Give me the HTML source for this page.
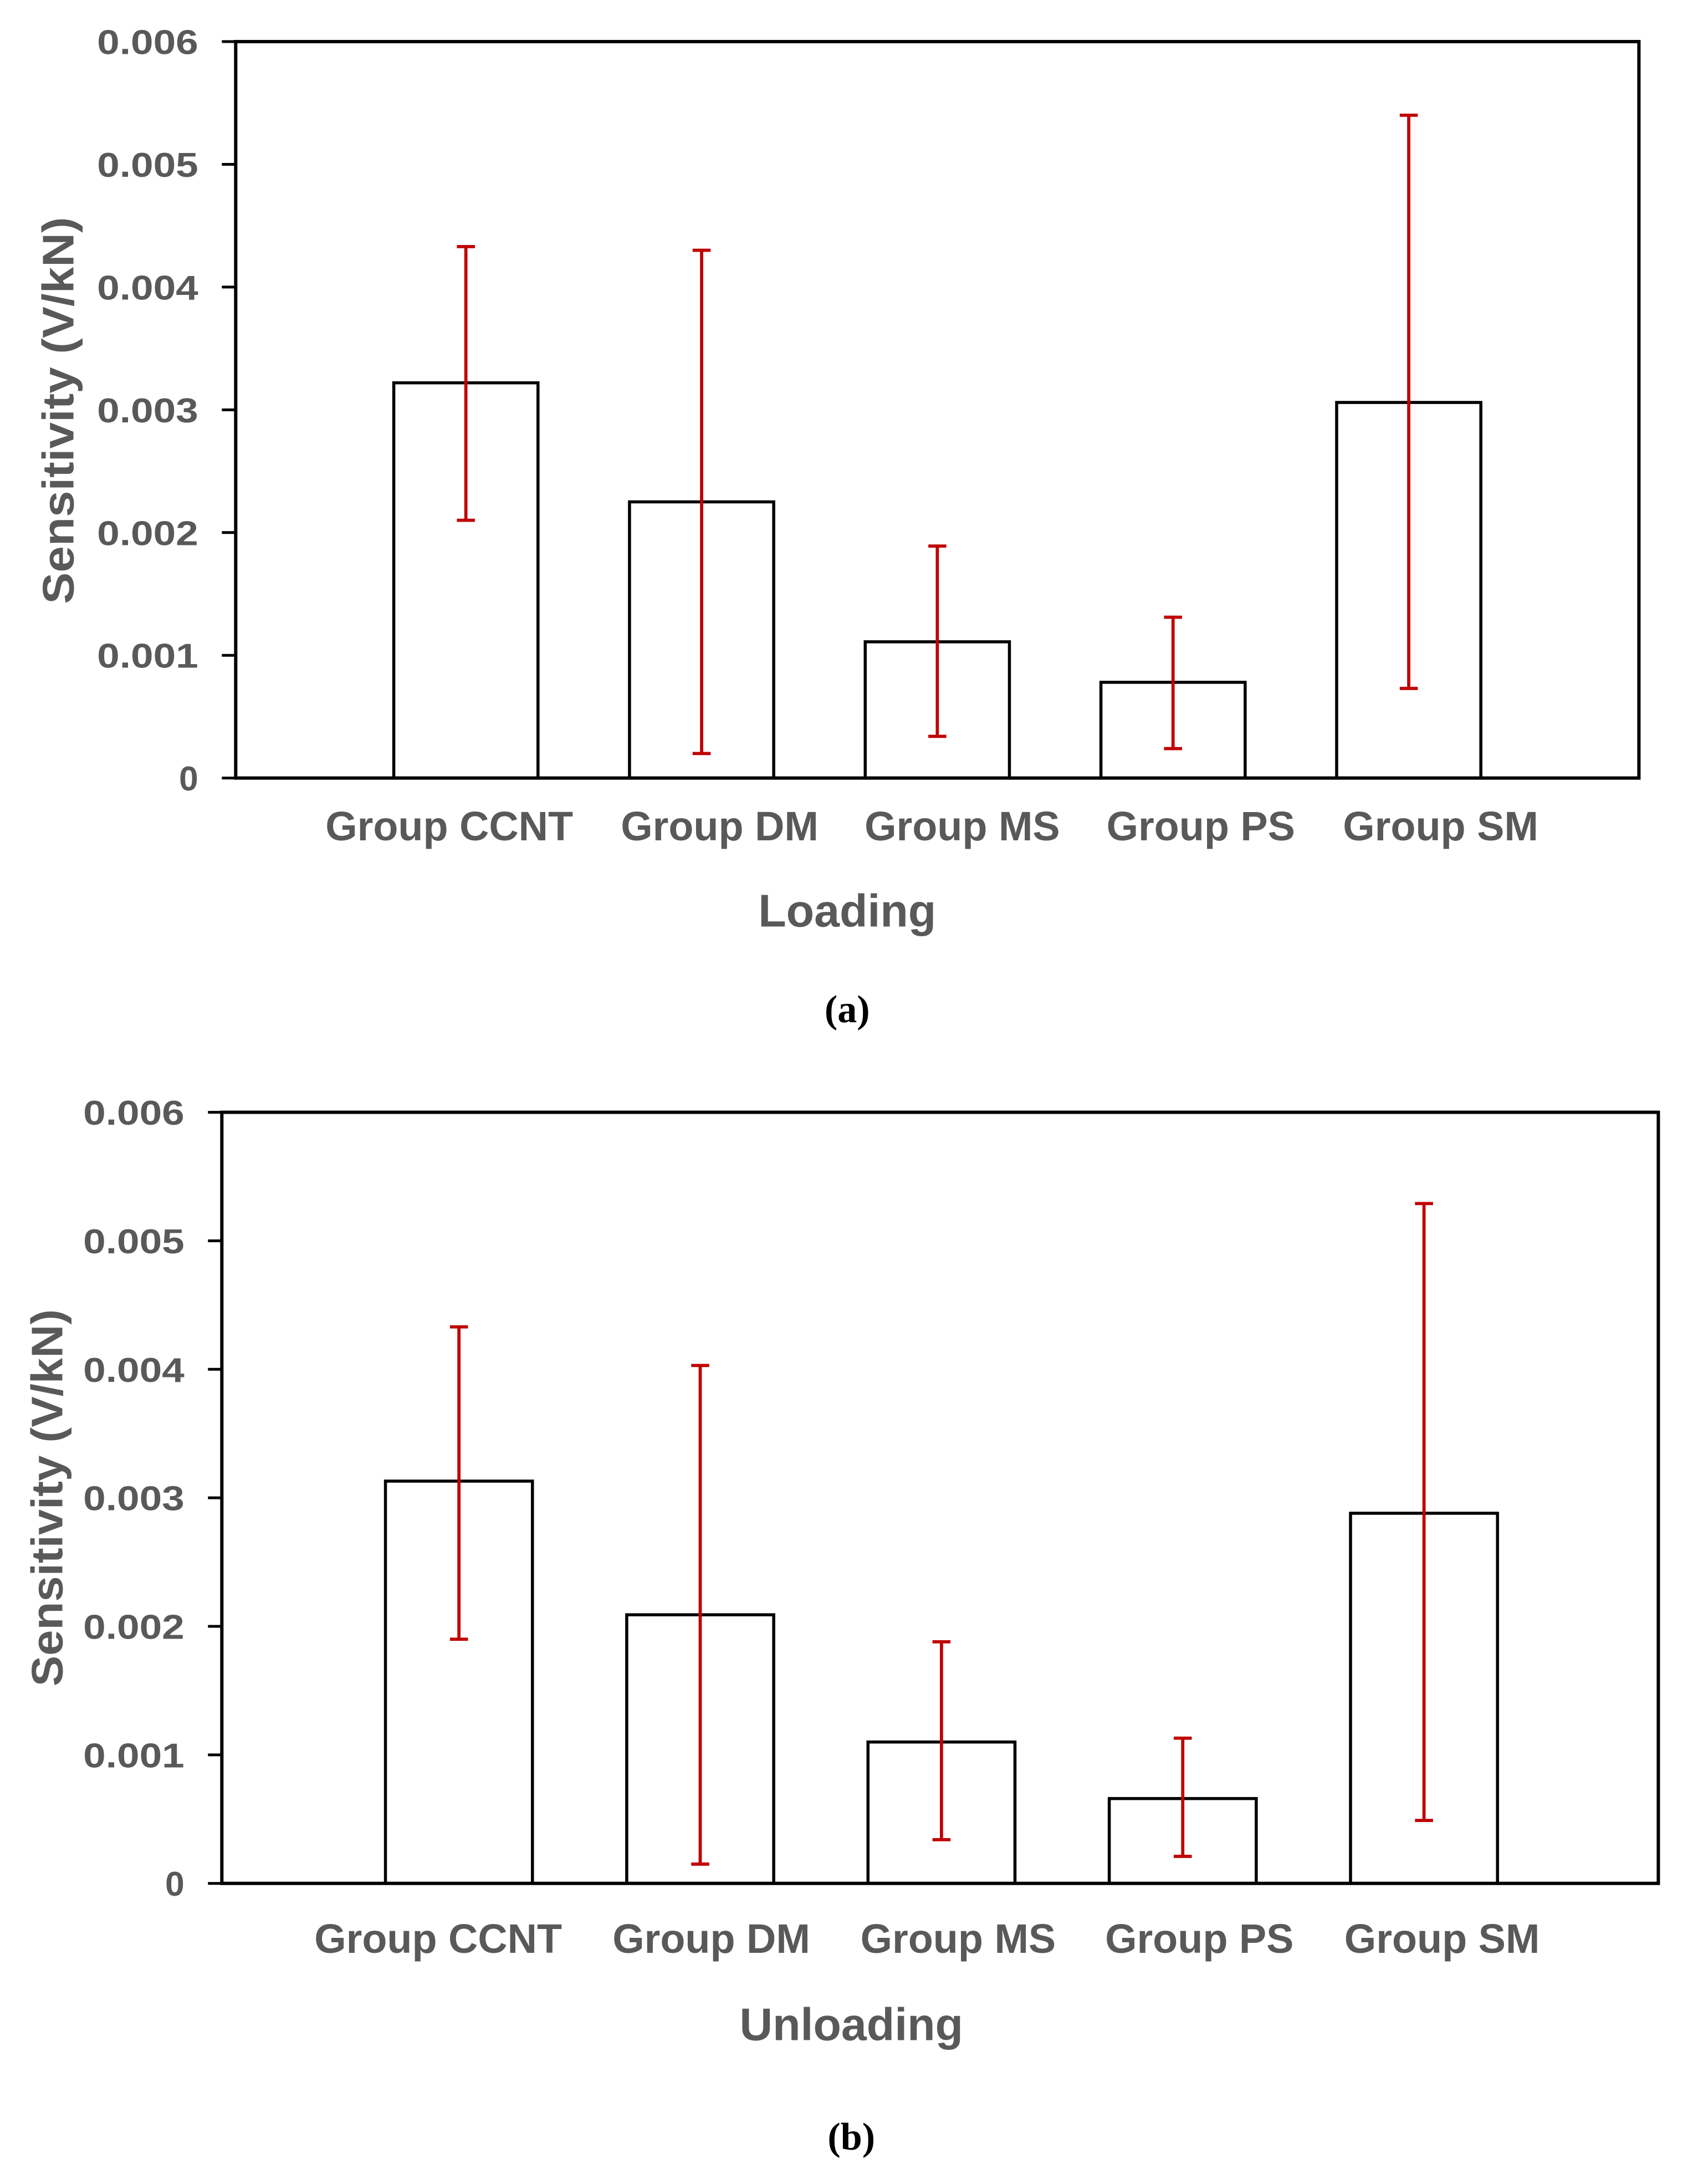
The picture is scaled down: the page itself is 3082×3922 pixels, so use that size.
<!DOCTYPE html>
<html><head><meta charset="utf-8"><style>
html,body{margin:0;padding:0;background:#fff;}
svg{display:block;}
text{font-family:"Liberation Sans",Arial,sans-serif;font-weight:bold;fill:#595959;}
</style></head><body>
<svg id="fig" width="3082" height="3922" viewBox="0 0 3082 3922" xmlns="http://www.w3.org/2000/svg">
<rect width="3082" height="3922" fill="#fff"/>
<g id="root" transform="scale(2.502)"></g>
</svg>
<script>
const categories = ["Group CCNT","Group DM","Group MS","Group PS","Group SM"];
const yTicks = [0,0.001,0.002,0.003,0.004,0.005,0.006];
const yTickLabels = ["0","0.001","0.002","0.003","0.004","0.005","0.006"];
const loadingValues = [0.00322,0.00225,0.00111,0.00078,0.00306];
const loadingUpper = [0.00433,0.00430,0.00189,0.00131,0.00540];
const loadingLower = [0.00210,0.00020,0.00034,0.00024,0.00073];
const unloadingValues = [0.00313,0.00209,0.00110,0.00066,0.00288];
const unloadingUpper = [0.00433,0.00403,0.00188,0.00113,0.00529];
const unloadingLower = [0.00190,0.00015,0.00034,0.00021,0.00049];

const NS="http://www.w3.org/2000/svg";
const root=document.getElementById('root');
function mk(tag,attrs,parent){const e=document.createElementNS(NS,tag);for(const k in attrs)e.setAttribute(k,attrs[k]);(parent||root).appendChild(e);return e;}

function drawChart(cfg){
  const g=mk('g',{});
  
  
  const {x0,x1,y0,y1}=cfg;
  const yS=v=>y1-(v/0.006)*(y1-y0);
  const xC=i=>cfg.c0+i*cfg.step;
  yTicks.forEach((t,i)=>{
    const tk=mk('line',{x1:x0-10,x2:x0,y1:yS(t),y2:yS(t),stroke:'#000','stroke-width':2},g);
    
    
    const attrs={x:x0-27,y:yS(t)+9,'text-anchor':'end','font-size':25};
    if(yTickLabels[i].length>1){attrs.textLength=73;attrs.lengthAdjust='spacingAndGlyphs';}
    const tx=mk('text',attrs,g);
    tx.textContent=yTickLabels[i];
    
    
  });
  cfg.values.forEach((v,i)=>{
    const b=mk('rect',{x:xC(i)-cfg.bw/2,y:yS(v),width:cfg.bw,height:yS(0)-yS(v),fill:'#fff',stroke:'#000','stroke-width':2.2},g);
    
    
  });
  cfg.values.forEach((v,i)=>{
    const cx=xC(i);
    const e=mk('path',{d:`M${cx},${yS(cfg.upper[i])}V${yS(cfg.lower[i])}M${cx-6.5},${yS(cfg.upper[i])}H${cx+6.5}M${cx-6.5},${yS(cfg.lower[i])}H${cx+6.5}`,stroke:'#c00000','stroke-width':2.3,fill:'none'},g);
    
    
    const t=mk('text',{x:cx+cfg.labelShift[i],y:cfg.catY,'text-anchor':'middle','font-size':29.5},g);
    t.textContent=categories[i];
    
    
  });
  const frame=mk('rect',{x:x0,y:y0,width:x1-x0,height:y1-y0,fill:'none',stroke:'#000','stroke-width':2.4},g);
  
  
  const xt=mk('text',{x:cfg.titleX,y:cfg.titleY,'text-anchor':'middle','font-size':33},g);
  xt.textContent=cfg.title;
  
  
  const yt=mk('text',{x:0,y:0,'text-anchor':'middle','font-size':32,textLength:cfg.ytLen,lengthAdjust:'spacingAndGlyphs',transform:`translate(${cfg.ytX},${cfg.ytY}) rotate(-90)`},g);
  yt.textContent=cfg.ytitle;
  
  
  const lab=mk('text',{x:cfg.titleX,y:cfg.labY,'text-anchor':'middle','font-size':28,style:'font-family:"Liberation Serif",serif;fill:#000'},g);
  lab.textContent=cfg.label;
  
  
}
drawChart({name:'chart-loading',x0:170,x1:1182,y0:30,y1:561,c0:336,step:170,bw:104,labelShift:[-12,13,18,20,23],values:loadingValues,upper:loadingUpper,lower:loadingLower,catY:606,title:'Loading',titleX:611,titleY:668,ytitle:'Sensitivity  (V/kN)',ytLen:279,ytX:53,ytY:296,label:'(a)',labY:737});
drawChart({name:'chart-unloading',x0:160,x1:1196,y0:802,y1:1358,c0:331,step:174,bw:106,labelShift:[-15,8,12,12,13],values:unloadingValues,upper:unloadingUpper,lower:unloadingLower,catY:1408,title:'Unloading',titleX:614,titleY:1471,ytitle:'Sensitivity (V/kN)',ytLen:272,ytX:45,ytY:1080,label:'(b)',labY:1550});
</script>
</body></html>
